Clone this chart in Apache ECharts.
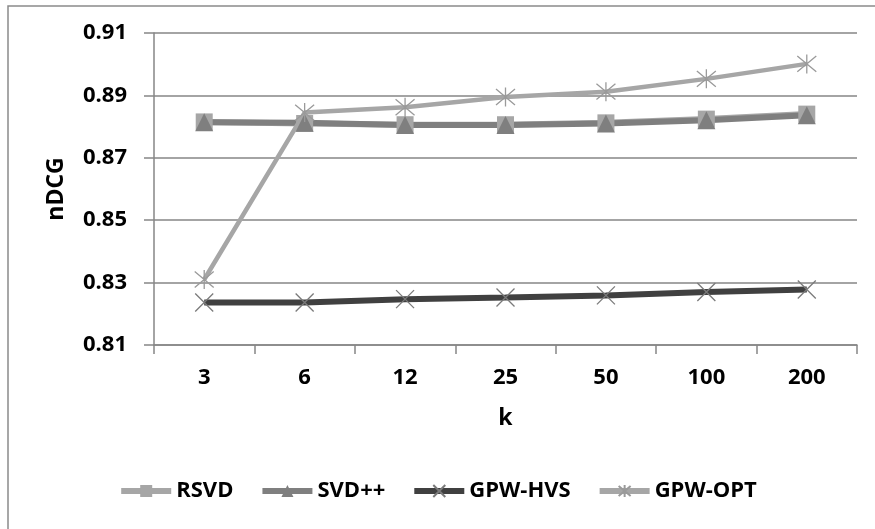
<!DOCTYPE html>
<html>
<head>
<meta charset="utf-8">
<script src="https://cdn.jsdelivr.net/npm/echarts@6/dist/echarts.min.js"></script>
<style>
  html, body { margin: 0; padding: 0; background: #fff; }
  #chart { width: 875px; height: 529px; }
</style>
</head>
<body>
<div id="chart"></div>
<script>
// k values on the x axis
var kValues = ['3', '6', '12', '25', '50', '100', '200'];

// nDCG per method
var rsvd   = [0.8815, 0.8810, 0.8806, 0.8806, 0.8812, 0.8824, 0.8840];
var svdpp  = [0.8814, 0.8812, 0.8805, 0.8805, 0.8810, 0.8820, 0.8836];
var gpwHvs = [0.8236, 0.8236, 0.8247, 0.8252, 0.8259, 0.8270, 0.8278];
var gpwOpt = [0.8310, 0.8845, 0.8862, 0.8895, 0.8912, 0.8953, 0.9001];

var yTicks = { min: 0.81, max: 0.91, step: 0.02 };

var font = 'Open Sans';
var crossPath = 'path://M0,0L10,10M10,0L0,10';
var starPath = 'path://M0,0L10,10M10,0L0,10M5,-1L5,11';

var option = {
    animation: false,
    backgroundColor: '#fff',
    textStyle: { fontFamily: font },
    graphic: [{
        type: 'polyline',
        shape: { points: [[8, 529], [8, 6], [875, 6]] },
        style: { stroke: '#8a8a8a', lineWidth: 1.5, fill: null }
    }],
    grid: { left: 154, right: 18, top: 33, bottom: 184 },
    legend: {
        bottom: 22,
        left: 'center',
        itemWidth: 50,
        itemHeight: 15,
        itemGap: 26,
        lineStyle: { width: 6 },
        textStyle: { fontFamily: font, fontWeight: 'bold', fontSize: 22, color: '#000' },
        data: ['RSVD', 'SVD++', 'GPW-HVS', 'GPW-OPT']
    },
    xAxis: {
        type: 'category',
        data: kValues,
        name: 'k',
        nameLocation: 'middle',
        nameGap: 62,
        nameTextStyle: { fontFamily: font, fontWeight: 'bold', fontSize: 23, color: '#000' },
        axisLine: { lineStyle: { color: '#868686', width: 1.5 } },
        axisTick: { show: true, length: 9, lineStyle: { color: '#868686', width: 1.5 } },
        axisLabel: { margin: 22, fontFamily: font, fontWeight: 'bold', fontSize: 22, color: '#000' }
    },
    yAxis: {
        type: 'value',
        min: yTicks.min,
        max: yTicks.max,
        interval: yTicks.step,
        name: 'nDCG',
        nameLocation: 'middle',
        nameGap: 86,
        nameTextStyle: { fontFamily: font, fontWeight: 'bold', fontSize: 23, color: '#000' },
        axisLine: { show: true, lineStyle: { color: '#868686', width: 1.5 } },
        axisTick: { show: true, length: 10, lineStyle: { color: '#868686', width: 1.5 } },
        axisLabel: {
            margin: 27,
            fontFamily: font, fontWeight: 'bold', fontSize: 22, color: '#000',
            formatter: function (v) { return v.toFixed(2); }
        },
        splitLine: { lineStyle: { color: '#868686', width: 1.5 } }
    },
    series: [
        {
            name: 'RSVD', type: 'line', data: rsvd,
            symbol: 'rect', symbolSize: 17,
            lineStyle: { color: '#a6a6a6', width: 6 },
            itemStyle: { color: '#a6a6a6' }
        },
        {
            name: 'SVD++', type: 'line', data: svdpp,
            symbol: 'triangle', symbolSize: 18,
            lineStyle: { color: '#7f7f7f', width: 6 },
            itemStyle: { color: '#7f7f7f' }
        },
        {
            name: 'GPW-HVS', type: 'line', data: gpwHvs,
            symbol: crossPath, symbolSize: 18,
            lineStyle: { color: '#404040', width: 6 },
            itemStyle: { color: 'none', borderColor: '#7a7a7a', borderWidth: 1.3 }
        },
        {
            name: 'GPW-OPT', type: 'line', data: gpwOpt,
            symbol: starPath, symbolSize: 19,
            lineStyle: { color: '#a6a6a6', width: 4.5 },
            itemStyle: { color: 'none', borderColor: '#9a9a9a', borderWidth: 1.3 }
        }
    ]
};

var myChart = echarts.init(document.getElementById('chart'));
myChart.setOption(option);
</script>
</body>
</html>
